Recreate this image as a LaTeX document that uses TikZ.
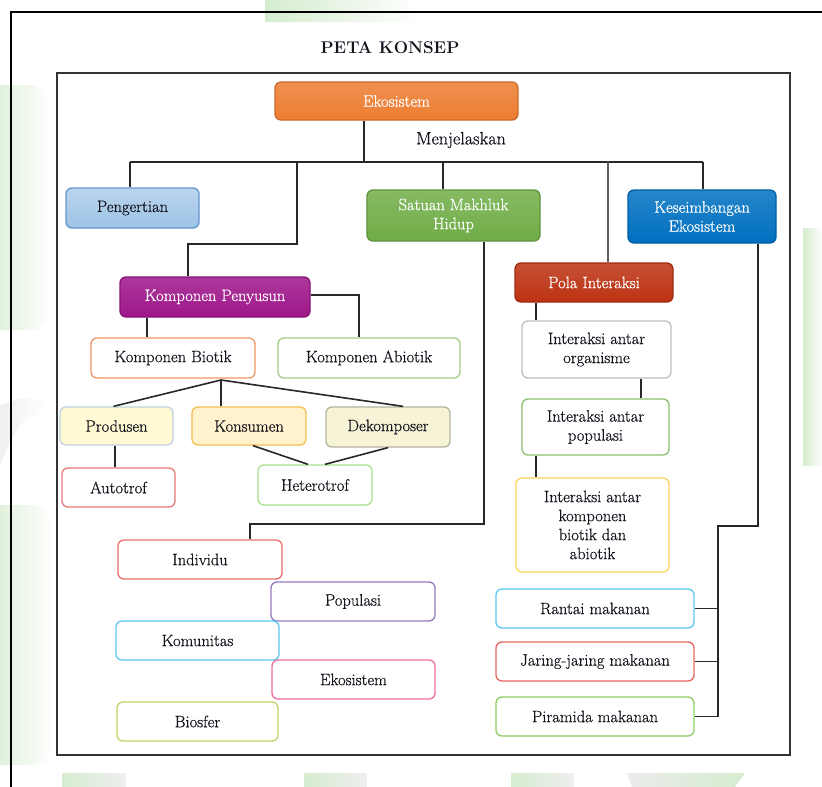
\documentclass[tikz,border=0pt]{standalone}
\usepackage{fontspec}
\usetikzlibrary{calc}

% slightly heavier text face for the labels
\newfontfamily\labelface{Latin Modern Roman}[FakeBold=0.6]

% palette
\definecolor{ink}{RGB}{20,20,30}
\definecolor{linec}{RGB}{40,40,40}
\definecolor{wm}{RGB}{200,230,192}
\definecolor{orangeF}{RGB}{237,125,49}
\definecolor{blueL}{RGB}{157,195,230}
\definecolor{blueLB}{RGB}{100,150,205}
\definecolor{greenF}{RGB}{112,173,71}
\definecolor{blueD}{RGB}{0,112,192}
\definecolor{purpleF}{RGB}{158,22,138}
\definecolor{redF}{RGB}{188,50,18}
\definecolor{biotikB}{RGB}{240,150,100}
\definecolor{abiotikB}{RGB}{160,205,130}
\definecolor{produsenF}{RGB}{255,250,212}
\definecolor{produsenB}{RGB}{190,210,225}
\definecolor{konsumenF}{RGB}{255,242,204}
\definecolor{konsumenB}{RGB}{245,190,80}
\definecolor{dekompF}{RGB}{246,243,214}
\definecolor{dekompB}{RGB}{180,180,165}
\definecolor{autotrofB}{RGB}{230,120,120}
\definecolor{heteroB}{RGB}{170,225,140}
\definecolor{iorgB}{RGB}{190,190,190}
\definecolor{ipopB}{RGB}{140,190,110}
\definecolor{ikompB}{RGB}{255,210,90}
\definecolor{individuB}{RGB}{235,110,110}
\definecolor{populasiB}{RGB}{150,120,190}
\definecolor{komunitasB}{RGB}{90,200,240}
\definecolor{ekosB}{RGB}{240,110,160}
\definecolor{biosferB}{RGB}{195,210,100}
\definecolor{rantaiB}{RGB}{90,200,240}
\definecolor{jaringB}{RGB}{235,100,100}
\definecolor{piramidaB}{RGB}{140,205,100}

\newcommand\boxfont{\labelface\fontsize{16.5}{19}\selectfont}

\begin{document}
\begin{tikzpicture}[x=1pt,y=-1pt,
  box/.style={draw, rounded corners=6pt, line width=1.3pt, fill=white,
    inner sep=1pt, align=center, font=\boxfont, text=ink},
  fillbox/.style={box, draw=#1!85!black, top color=#1!85!white,
    bottom color=#1, text=white},
  link/.style={draw=linec, line width=1.6pt},
  frame/.style={draw=black!80, line width=1.8pt},
]
\useasboundingbox (0,0) rectangle (822,787);
\fill[white] (0,0) rectangle (822,787);

% faint watermark shapes in the margins
\begin{scope}[opacity=0.75]
  \shade[left color=wm, right color=white, rounded corners=20pt] (-20,85) rectangle (50,330);
  \shade[left color=wm, right color=white, rounded corners=20pt] (-20,505) rectangle (52,765);
  \shade[left color=black!8, right color=white] (0,405) .. controls (20,398) .. (45,400) -- (45,412) .. controls (20,420) .. (0,465) -- cycle;
  \shade[left color=wm, right color=white] (803,228) rectangle (822,465);
  \shade[left color=wm, right color=white] (265,0) -- (405,0) -- (420,22) -- (265,22) -- cycle;
  \shade[left color=wm, right color=black!8] (62,773) rectangle (126,787);
  \shade[left color=wm, right color=black!8] (304,773) rectangle (367,787);
  \shade[left color=wm, right color=black!8] (511,773) rectangle (574,787);
  \shade[left color=black!10, right color=wm] (627,773) -- (745,773) -- (735,787) -- (632,787) -- cycle;
\end{scope}

% frames
\fill[white] (57,73) rectangle (790,755);
\draw[line width=2pt, black] (11,787) -- (11,12) -- (822,12);
\draw[frame] (57,73) rectangle (790,755);

\node[font=\fontsize{17}{20}\selectfont\bfseries, text=ink] (title) at (390,48) {PETA KONSEP};

% top level
\node[fillbox=orangeF, minimum width=243pt, minimum height=38pt] (ekos) at (396.5,101) {Ekosistem};
\node[font=\labelface\fontsize{18}{21}\selectfont, text=ink] (menj) at (461,140) {Menjelaskan};

\node[box, draw=blueLB, top color=blueL!70!white, bottom color=blueL, minimum width=133pt, minimum height=40pt] (peng) at (132.5,208) {Pengertian};
\node[fillbox=greenF, minimum width=173pt, minimum height=51pt] (satuan) at (453.5,215.5) {Satuan Makhluk\\Hidup};
\node[fillbox=blueD, minimum width=148pt, minimum height=53pt] (kesei) at (702,216.5) {Keseimbangan\\Ekosistem};

% komponen penyusun branch
\node[fillbox=purpleF, minimum width=190pt, minimum height=40pt] (penyusun) at (215,297) {Komponen Penyusun};
\node[box, draw=biotikB, minimum width=164pt, minimum height=40pt] (biotik) at (173,358) {Komponen Biotik};
\node[box, draw=abiotikB, minimum width=182pt, minimum height=40pt] (abiotik) at (369,358) {Komponen Abiotik};
\node[box, draw=produsenB, fill=produsenF, minimum width=113pt, minimum height=38pt] (produsen) at (116.5,426) {Produsen};
\node[box, draw=konsumenB, fill=konsumenF, minimum width=114pt, minimum height=38pt] (konsumen) at (249,426) {Konsumen};
\node[box, draw=dekompB, fill=dekompF, minimum width=124pt, minimum height=40pt] (dekomp) at (388,427) {Dekomposer};
\node[box, draw=autotrofB, minimum width=113pt, minimum height=39pt] (autotrof) at (118.5,487.5) {Autotrof};
\node[box, draw=heteroB, minimum width=114pt, minimum height=40pt] (hetero) at (315,485) {Heterotrof};

% satuan makhluk hidup levels
\node[box, draw=individuB, minimum width=164pt, minimum height=39pt] (individu) at (200,559.5) {Individu};
\node[box, draw=populasiB, minimum width=164pt, minimum height=39pt] (populasi) at (353,601.5) {Populasi};
\node[box, draw=komunitasB, minimum width=163pt, minimum height=39pt] (komunitas) at (197.5,640.5) {Komunitas};
\node[box, draw=ekosB, minimum width=163pt, minimum height=39pt] (ekos2) at (353.5,679.5) {Ekosistem};
\node[box, draw=biosferB, minimum width=161pt, minimum height=39pt] (biosfer) at (197.5,721.5) {Biosfer};

% pola interaksi branch
\node[fillbox=redF, minimum width=158pt, minimum height=39pt] (pola) at (594,282.5) {Pola Interaksi};
\node[box, draw=iorgB, minimum width=149pt, minimum height=57pt] (iorg) at (596.5,349.5) {Interaksi antar\\organisme};
\node[box, draw=ipopB, minimum width=147pt, minimum height=56pt] (ipop) at (595.5,427) {Interaksi antar\\populasi};
\node[box, draw=ikompB, minimum width=153pt, minimum height=94pt] (ikomp) at (592.5,525) {Interaksi antar\\komponen\\biotik dan\\abiotik};

% keseimbangan branch
\node[box, draw=rantaiB, minimum width=198pt, minimum height=39pt] (rantai) at (595,608.5) {Rantai makanan};
\node[box, draw=jaringB, minimum width=198pt, minimum height=39pt] (jaring) at (595,661.5) {Jaring-jaring makanan};
\node[box, draw=piramidaB, minimum width=198pt, minimum height=39pt] (piramida) at (595,716.5) {Piramida makanan};

% bend points
\coordinate (stem) at (364,162);
\coordinate (hL) at (130,162);
\coordinate (hR) at (703,162);
\coordinate (dK) at (297,162);
\coordinate (bK) at (188,244);
\coordinate (dS) at (443,162);
\coordinate (dP) at (608,162);
\coordinate (aB) at (359,295);
\coordinate (bB) at (147,0);
\coordinate (fan) at (221,380);
\coordinate (pA) at (115,0);
\coordinate (sR) at (484,524);
\coordinate (sL) at (250,524);
\coordinate (pO) at (536,0);
\coordinate (oP) at (641,0);
\coordinate (kR) at (758,526);
\coordinate (kL) at (718,526);

% connectors
\draw[link] (ekos.south -| stem) -- (stem);
\draw[link] (hL) -- (hR);
\draw[link] (hL) -- (hL |- peng.north);
\draw[link] (dK) |- (bK) -- (bK |- penyusun.north);
\draw[link] (dS) -- (dS |- satuan.north);
\draw[link, draw=linec!75] (dP) -- (dP |- pola.north);
\draw[link] (hR) -- (hR |- kesei.north);

\draw[link] (penyusun.east |- aB) -| (aB |- abiotik.north);
\draw[link] (bB |- penyusun.south) -- (bB |- biotik.north);
\draw[link] (fan) -- ($(produsen.north)+(-3,0)$);
\draw[link] (fan) -- (fan |- konsumen.north);
\draw[link] (fan) -- ($(dekomp.north)+(15,0)$);
\draw[link] (pA |- produsen.south) -- (pA |- autotrof.north);
\draw[link] ($(konsumen.south)+(4,0)$) -- ($(hetero.north)+(-7,0)$);
\draw[link] (dekomp.south) -- ($(hetero.north)+(10,0)$);

\draw[link] (sR |- satuan.south) -- (sR) -- (sL) -- (sL |- individu.north);

\draw[link] (pO |- pola.south) -- (pO |- iorg.north);
\draw[link] (oP |- iorg.south) -- (oP |- ipop.north);
\draw[link] (pO |- ipop.south) -- (pO |- ikomp.north);

\draw[link] (kR |- kesei.south) -- (kR) -- (kL) -- (kL |- piramida.east);
\draw[link] (rantai.east) -- (rantai.east -| kL);
\draw[link] (jaring.east) -- (jaring.east -| kL);
\draw[link] (piramida.east) -- (piramida.east -| kL);
\end{tikzpicture}
\end{document}
